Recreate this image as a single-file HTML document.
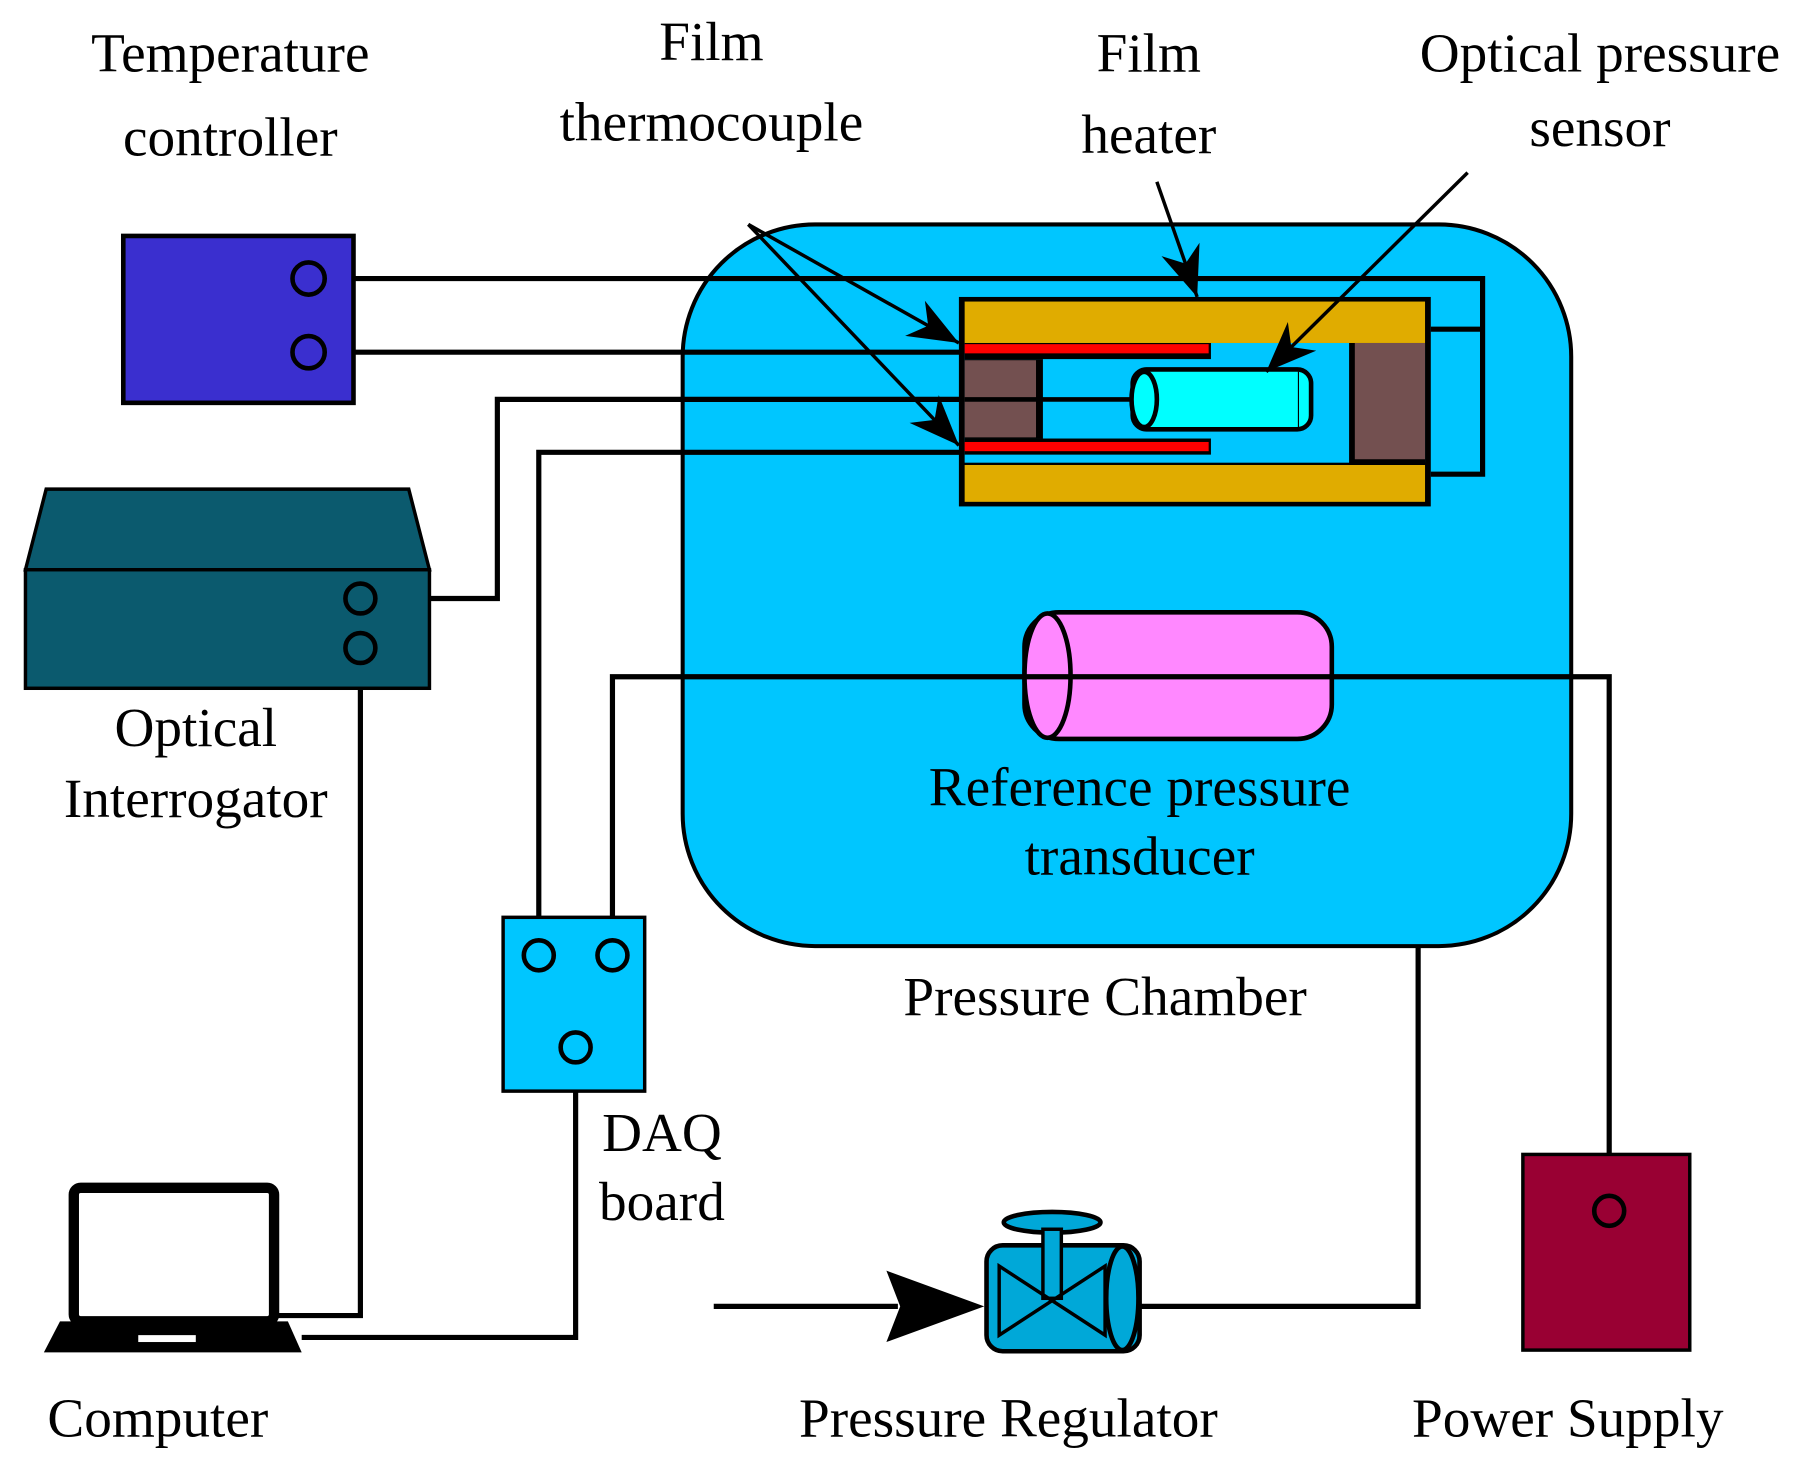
<!DOCTYPE html>
<html><head><style>html,body{margin:0;padding:0;background:#fff}svg{display:block}</style></head><body>
<svg width="1805" height="1479" viewBox="0 0 1568 1285" xmlns="http://www.w3.org/2000/svg" font-family="Liberation Serif, serif" font-size="48">
<defs>
<marker id="a2" viewBox="0 0 10 8" refX="10" refY="4" markerWidth="44" markerHeight="35" orient="auto" markerUnits="userSpaceOnUse"><path d="M0,0 L10,4 L0,8 L3,4z" fill="#000"/></marker></defs>
<rect width="1568" height="1285" fill="#fff"/>
<rect x="593" y="195" width="772" height="627" rx="115" fill="#00c6ff" stroke="#000" stroke-width="3.5"/>
<g stroke="#000" stroke-width="4.5" fill="none">
<path d="M282,242 H1288 V412 H1243 M1243,286 H1288"/>
<path d="M282,306 H838"/>
<path d="M327,520 H432 V347 H985"/>
<path d="M468,816 V393 H838"/>
<path d="M532,816 V588 H1398 V1038"/>
<path d="M313,577 V1143 H240"/>
<path d="M500,924 V1162 H262"/>
<path d="M620,1135 H780"/>
<path d="M990,1135 H1232 V822"/>
</g>
<rect x="833" y="258" width="410" height="182" fill="#000"/>
<rect x="838" y="298" width="400" height="104" fill="#00c6ff"/>
<rect x="838" y="262" width="400" height="36" fill="#e0ac00"/>
<rect x="838" y="404" width="400" height="32" fill="#e0ac00"/>
<rect x="838" y="298" width="214" height="14" fill="#000"/>
<rect x="838" y="299" width="212" height="8" fill="#f00"/>
<rect x="838" y="381" width="214" height="14" fill="#000"/>
<rect x="838" y="384" width="212" height="8" fill="#f00"/>
<rect x="838" y="312" width="68" height="69" fill="#000"/>
<rect x="838" y="313" width="62" height="67" fill="#735050"/>
<line x1="838" y1="347" x2="985" y2="347" stroke="#000" stroke-width="4"/>
<rect x="1172" y="298" width="66" height="106" fill="#000"/>
<rect x="1177" y="298" width="61" height="101" fill="#735050"/>
<rect x="984" y="321" width="155" height="52" rx="12" fill="#0ff" stroke="#000" stroke-width="4"/>
<ellipse cx="994" cy="347" rx="11" ry="24" fill="#0ff" stroke="#000" stroke-width="4"/>
<line x1="1128" y1="323" x2="1128" y2="371" stroke="#000" stroke-width="1"/>
<rect x="890" y="532" width="267" height="110" rx="30" fill="#ff88ff" stroke="#000" stroke-width="4"/>
<ellipse cx="910" cy="587" rx="20" ry="54" fill="#ff88ff" stroke="#000" stroke-width="4"/>
<line x1="890" y1="588" x2="1157" y2="588" stroke="#000" stroke-width="4.5"/>
<g stroke="#000" stroke-width="3" fill="none">
<line x1="650" y1="195" x2="833" y2="298" marker-end="url(#a2)"/>
<line x1="650" y1="195" x2="833" y2="387" marker-end="url(#a2)"/>
<line x1="1005" y1="158" x2="1040" y2="258" marker-end="url(#a2)"/>
<line x1="1275" y1="150" x2="1100" y2="323" marker-end="url(#a2)"/>
</g>
<rect x="107" y="205" width="200" height="145" fill="#3a2fcf" stroke="#000" stroke-width="4"/>
<circle cx="268" cy="242" r="14" fill="none" stroke="#000" stroke-width="4"/>
<circle cx="268" cy="306" r="14" fill="none" stroke="#000" stroke-width="4"/>
<path d="M40,425 H355 L373,495 H22 Z" fill="#0b5a6e" stroke="#000" stroke-width="3"/>
<rect x="22" y="495" width="351" height="103" fill="#0b5a6e" stroke="#000" stroke-width="3"/>
<circle cx="313" cy="520" r="13" fill="none" stroke="#000" stroke-width="4"/>
<circle cx="313" cy="563" r="13" fill="none" stroke="#000" stroke-width="4"/>
<rect x="437" y="797" width="123" height="151" fill="#00c6ff" stroke="#000" stroke-width="3"/>
<circle cx="468" cy="830" r="13" fill="none" stroke="#000" stroke-width="4"/>
<circle cx="532" cy="830" r="13" fill="none" stroke="#000" stroke-width="4"/>
<circle cx="500" cy="910" r="13" fill="none" stroke="#000" stroke-width="4"/>
<rect x="64" y="1032" width="174" height="116" rx="6" fill="#fff" stroke="#000" stroke-width="9"/>
<path d="M52,1148 H250 L262,1175 H38 Z" fill="#000"/>
<rect x="120" y="1160" width="50" height="6" fill="#fff"/>
<path d="M770,1104 L855,1135 L770,1166 L782,1135 Z" fill="#000"/>
<rect x="857" y="1082" width="133" height="92" rx="14" fill="#00a8d8" stroke="#000" stroke-width="4"/>
<ellipse cx="975" cy="1128" rx="14" ry="45" fill="#00a8d8" stroke="#000" stroke-width="4"/>
<ellipse cx="914" cy="1062" rx="42" ry="9" fill="#00a8d8" stroke="#000" stroke-width="4"/>
<rect x="906" y="1068" width="16" height="60" fill="#00a8d8" stroke="#000" stroke-width="3"/>
<path d="M868,1100 V1160 L960,1100 V1160 Z" fill="none" stroke="#000" stroke-width="3"/>
<rect x="1323" y="1003" width="145" height="170" fill="#990033" stroke="#000" stroke-width="3"/>
<circle cx="1398" cy="1052" r="13" fill="none" stroke="#000" stroke-width="4"/>
<g fill="#000" text-anchor="middle">
<text x="200" y="62">Temperature</text><text x="200" y="135">controller</text>
<text x="618" y="52">Film</text><text x="618" y="122">thermocouple</text>
<text x="998" y="62">Film</text><text x="998" y="133">heater</text>
<text x="1390" y="62">Optical pressure</text><text x="1390" y="127">sensor</text>
<text x="170" y="648">Optical</text><text x="170" y="710">Interrogator</text>
<text x="990" y="700">Reference pressure</text><text x="990" y="760">transducer</text>
<text x="960" y="882">Pressure Chamber</text>
<text x="575" y="1000">DAQ</text><text x="575" y="1060">board</text>
<text x="137" y="1248">Computer</text>
<text x="876" y="1248">Pressure Regulator</text>
<text x="1362" y="1248">Power Supply</text>
</g>
</svg>
</body></html>
